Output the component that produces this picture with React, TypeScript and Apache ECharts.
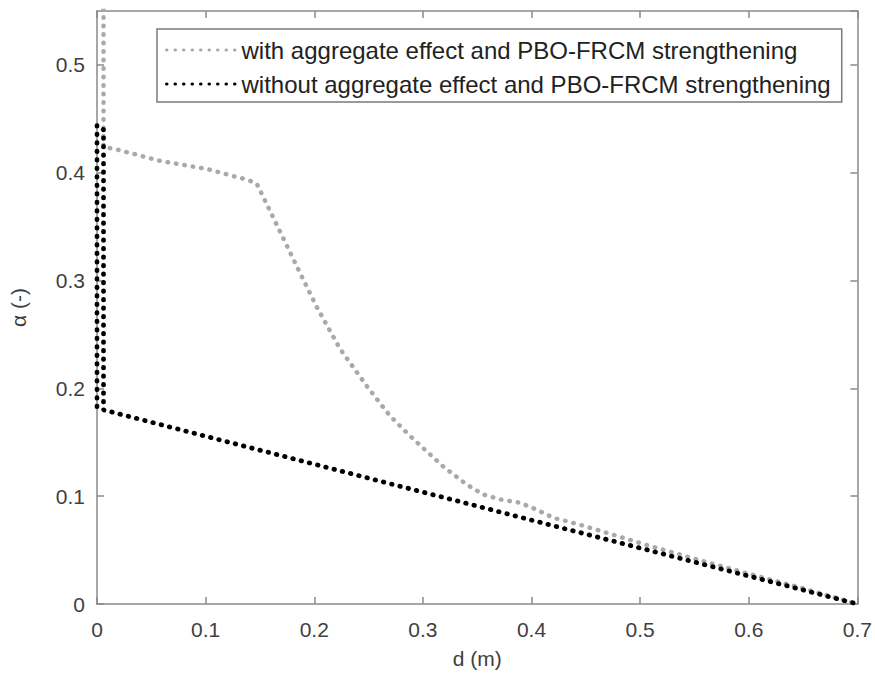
import React, { useEffect, useRef } from "react";
import * as echarts from "echarts";

const xTicks = [0, 0.1, 0.2, 0.3, 0.4, 0.5, 0.6, 0.7];
const yTicks = [0, 0.1, 0.2, 0.3, 0.4, 0.5];

const seriesNames = [
  "with aggregate effect and PBO-FRCM strengthening",
  "without aggregate effect and PBO-FRCM strengthening",
];

// d (m), alpha (-)
const withD = [0.006, 0.006, 0.018, 0.058, 0.101, 0.138, 0.147, 0.161, 0.184, 0.202, 0.2235, 0.248, 0.2696, 0.288, 0.3186, 0.34, 0.3555, 0.371, 0.389, 0.4045, 0.42, 0.444, 0.475, 0.505, 0.55, 0.6, 0.65, 0.7];
const withA = [0.56, 0.424, 0.4216, 0.411, 0.4035, 0.3936, 0.39, 0.361, 0.313, 0.276, 0.237, 0.2026, 0.1746, 0.156, 0.1276, 0.111, 0.1016, 0.097, 0.094, 0.0876, 0.08, 0.0737, 0.0643, 0.055, 0.042, 0.028, 0.0145, 0];

const withoutD = [0.0, 0.0, 0.006, 0.006, 0.7];
const withoutA = [0.183, 0.444, 0.44, 0.18, 0];

const FONT = "'Liberation Sans', Arial, Helvetica, sans-serif";
const AXIS_COLOR = "#8a8a8a";
const LABEL_COLOR = "#404040";

export default function App() {
  const ref = useRef<HTMLDivElement>(null);

  useEffect(() => {
    document.body.style.margin = "0";
    if (!ref.current) return;
    const chart = echarts.init(ref.current, undefined, { renderer: "svg" });

    const withData = withD.map((d, i) => [d, withA[i]]);
    const withoutData = withoutD.map((d, i) => [d, withoutA[i]]);

    const xMin = xTicks[0];
    const xMax = xTicks[xTicks.length - 1];
    const xInt = xTicks[1] - xTicks[0];
    const yInt = yTicks[1] - yTicks[0];

    const baseAxisLine = { show: true, onZero: false, lineStyle: { color: AXIS_COLOR, width: 1.5 } };
    const baseTick = { show: true, inside: true, length: 7, lineStyle: { color: AXIS_COLOR, width: 1.5 } };

    chart.setOption({
      animation: false,
      backgroundColor: "#ffffff",
      textStyle: { fontFamily: FONT },
      grid: { left: 97, right: 17, top: 11, bottom: 84, containLabel: false },
      legend: {
        show: true,
        orient: "vertical",
        left: 157,
        top: 29,
        padding: [9, 11, 6, 8],
        itemGap: 10,
        itemWidth: 70,
        itemHeight: 14,
        borderColor: "#7a7a7a",
        borderWidth: 1.5,
        backgroundColor: "#ffffff",
        itemStyle: { opacity: 0 },
        lineStyle: { width: 3 },
        textStyle: { fontSize: 24, lineHeight: 22, color: "#222222", fontFamily: FONT, padding: [0, 0, 0, 0] },
        data: seriesNames,
      },
      xAxis: [
        {
          type: "value",
          min: xMin,
          max: xMax,
          interval: xInt,
          name: "d (m)",
          nameLocation: "middle",
          nameGap: 44,
          nameTextStyle: { fontSize: 21, color: LABEL_COLOR, fontFamily: FONT },
          axisLine: baseAxisLine,
          axisTick: baseTick,
          splitLine: { show: false },
          axisLabel: { fontSize: 21, color: LABEL_COLOR, margin: 15, fontFamily: FONT, formatter: (v: number) => String(+v.toFixed(2)) },
        },
        {
          type: "value",
          position: "top",
          min: xMin,
          max: xMax,
          interval: xInt,
          axisLine: baseAxisLine,
          axisTick: baseTick,
          splitLine: { show: false },
          axisLabel: { show: false },
        },
      ],
      yAxis: [
        {
          type: "value",
          min: 0,
          max: 0.55,
          interval: yInt,
          name: "α (-)",
          nameLocation: "middle",
          nameGap: 68,
          nameTextStyle: { fontSize: 21, color: LABEL_COLOR, fontFamily: FONT },
          axisLine: baseAxisLine,
          axisTick: baseTick,
          splitLine: { show: false },
          axisLabel: {
            fontSize: 21,
            color: LABEL_COLOR,
            margin: 12,
            fontFamily: FONT,
            showMaxLabel: false,
            formatter: (v: number) => (v > 0.501 ? "" : String(+v.toFixed(2))),
          },
        },
        {
          type: "value",
          position: "right",
          min: 0,
          max: 0.55,
          interval: yInt,
          axisLine: baseAxisLine,
          axisTick: baseTick,
          splitLine: { show: false },
          axisLabel: { show: false },
        },
      ],
      series: [
        {
          name: seriesNames[0],
          type: "line",
          data: withData,
          symbol: "none",
          clip: true,
          smooth: false,
          z: 2,
          lineStyle: { color: "#a9a9a9", width: 4.5, type: [0.5, 8], cap: "round" },
          itemStyle: { color: "#a9a9a9" },
        },
        {
          name: seriesNames[1],
          type: "line",
          data: withoutData,
          symbol: "none",
          clip: true,
          z: 3,
          lineStyle: { color: "#000000", width: 4.8, type: [0.5, 8], cap: "round" },
          itemStyle: { color: "#000000" },
        },
      ],
    });

    return () => chart.dispose();
  }, []);

  return <div ref={ref} style={{ width: 875, height: 688 }} />;
}
